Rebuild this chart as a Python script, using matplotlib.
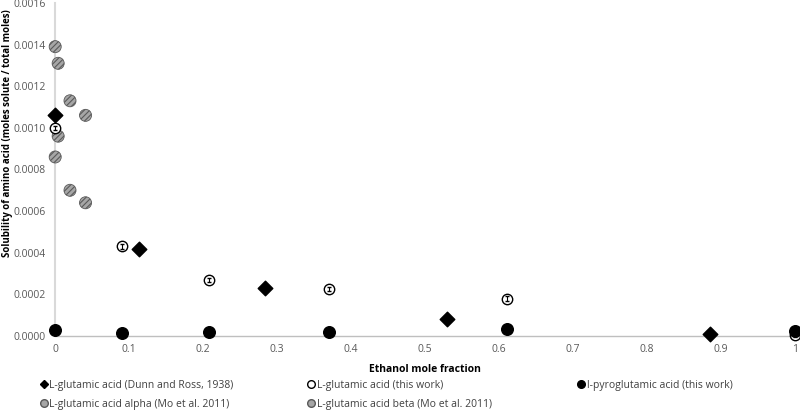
import matplotlib
matplotlib.use('Agg')
import matplotlib.pyplot as plt
from matplotlib.lines import Line2D
from matplotlib.ticker import FormatStrFormatter, FixedLocator, FixedFormatter

# Data
dunn_x = [0.0, 0.113, 0.283, 0.530, 0.885]
dunn_y = [0.00106, 0.00042, 0.00023, 0.00008, 0.000010]

glu_x = [0.0, 0.090, 0.208, 0.370, 0.610, 1.0]
glu_y = [0.00100, 0.00043, 0.00027, 0.000225, 0.00018, 0.000005]
glu_err = [0.00001, 0.00001, 0.00001, 0.00001, 0.00001, 0.00001]

pyro_x = [0.0, 0.090, 0.208, 0.370, 0.610, 1.0]
pyro_y = [0.000030, 0.000015, 0.000020, 0.000020, 0.000035, 0.000025]

alpha_x = [0.0, 0.004, 0.020, 0.041]
alpha_y = [0.00139, 0.00131, 0.00113, 0.00106]

beta_x = [0.004, 0.0, 0.020, 0.041]
beta_y = [0.00096, 0.00086, 0.00070, 0.00064]

x_ticks = [0, 0.1, 0.2, 0.3, 0.4, 0.5, 0.6, 0.7, 0.8, 0.9, 1.0]
x_tick_labels = ["0", "0.1", "0.2", "0.3", "0.4", "0.5", "0.6", "0.7", "0.8", "0.9", "1"]

plt.rcParams['font.family'] = ['Open Sans', 'DejaVu Sans']
plt.rcParams['hatch.linewidth'] = 0.8

fig = plt.figure(figsize=(8, 4.2), dpi=100)
ax = fig.add_axes([0.069, 0.2, 0.925, 0.793])

hatch_face = "#a6a6a6"
hatch_edge = "#595959"

ax.scatter(alpha_x, alpha_y, s=75, facecolor=hatch_face, edgecolor=hatch_edge,
           hatch='//////', linewidth=0.6, clip_on=False, zorder=3)
ax.scatter(beta_x, beta_y, s=75, facecolor=hatch_face, edgecolor=hatch_edge,
           hatch='//////', linewidth=0.6, clip_on=False, zorder=3)
ax.scatter(dunn_x, dunn_y, s=55, marker='D', color='black', clip_on=False, zorder=4)
ax.scatter(glu_x, glu_y, s=56, facecolor='white', edgecolor='black', linewidth=1.0,
           clip_on=False, zorder=4)
# small error bars, visible inside the open circles
ax.errorbar(glu_x, glu_y, yerr=glu_err, fmt='none', ecolor='black', elinewidth=0.8,
            capsize=1.5, clip_on=False, zorder=4.5)
ax.scatter(pyro_x, pyro_y, s=70, color='black', clip_on=False, zorder=5)

ax.set_xlim(0, 1)
ax.set_ylim(0, 0.0016)
ax.xaxis.set_major_locator(FixedLocator(x_ticks))
ax.xaxis.set_major_formatter(FixedFormatter(x_tick_labels))
ax.set_yticks([0.0002 * i for i in range(9)])
ax.yaxis.set_major_formatter(FormatStrFormatter('%.4f'))
ax.tick_params(length=0, labelsize=7.5, labelcolor='#595959')
ax.tick_params(axis='x', pad=6)
ax.tick_params(axis='y', pad=7)

for side in ['top', 'right']:
    ax.spines[side].set_visible(False)
ax.spines['left'].set_color('#d9d9d9')
ax.spines['left'].set_linewidth(1.5)
ax.spines['bottom'].set_color('#bfbfbf')
ax.spines['bottom'].set_linewidth(1.0)

ax.set_xlabel("Ethanol mole fraction", fontsize=7.5, fontweight='bold', labelpad=6)
ax.set_ylabel("Solubility of amino acid (moles solute / total moles)", fontsize=7,
              fontweight='bold')
ax.yaxis.set_label_coords(-0.057, 0.61)

# legend: three columns placed like the reference
def marker_handle(kind):
    if kind == 'diamond':
        return Line2D([], [], marker='D', color='black', ls='', ms=4.5)
    if kind == 'hatched':
        return Line2D([], [], marker='o', mfc=hatch_face, mec=hatch_edge, ls='', ms=5.5)
    if kind == 'open':
        return Line2D([], [], marker='o', mfc='white', mec='black', ls='', ms=5.5)
    return Line2D([], [], marker='o', color='black', ls='', ms=5.5)

columns = [
    (0.048, [('diamond', "L-glutamic acid (Dunn and Ross, 1938)"),
             ('hatched', "L-glutamic acid alpha (Mo et al. 2011)")]),
    (0.382, [('open', "L-glutamic acid (this work)"),
             ('hatched', "L-glutamic acid beta (Mo et al. 2011)")]),
    (0.720, [('filled', "l-pyroglutamic acid (this work)")]),
]
for xpos, entries in columns:
    fig.legend([marker_handle(k) for k, _ in entries], [t for _, t in entries],
               loc='upper left', bbox_to_anchor=(xpos, 0.096), frameon=False,
               fontsize=7.5, handletextpad=0.05, labelspacing=0.8,
               borderaxespad=0, borderpad=0, handlelength=1.0, labelcolor='#404040')

plt.savefig("out.png", dpi=100)
plt.close()
